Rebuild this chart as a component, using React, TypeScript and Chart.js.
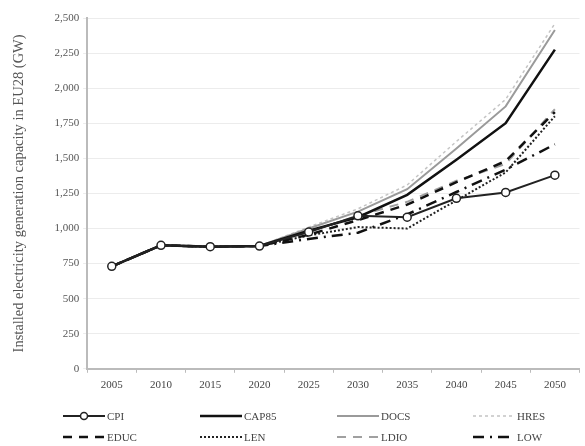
import React, { useEffect, useRef } from "react";
import { Chart, registerables } from "chart.js";

Chart.register(...registerables);

const years = ["2005", "2010", "2015", "2020", "2025", "2030", "2035", "2040", "2045", "2050"];
const cpi = [730, 880, 870, 875, 975, 1090, 1080, 1215, 1257, 1380];
const cap85 = [730, 880, 870, 875, 985, 1080, 1240, 1490, 1750, 2275];
const docs = [730, 880, 870, 875, 1000, 1120, 1280, 1570, 1870, 2415];
const hres = [730, 880, 870, 875, 1010, 1140, 1310, 1620, 1920, 2460];
const educ = [730, 880, 870, 875, 955, 1060, 1170, 1330, 1480, 1830];
const len = [730, 880, 870, 875, 950, 1010, 1000, 1200, 1400, 1800];
const ldio = [730, 880, 870, 875, 975, 1090, 1190, 1340, 1460, 1850];
const low = [730, 880, 870, 875, 925, 970, 1100, 1260, 1420, 1600];
const yTicks = [0, 250, 500, 750, 1000, 1250, 1500, 1750, 2000, 2250, 2500];

const FONT = "'Liberation Serif', 'DejaVu Serif', serif";

const legendPlugin = {
  id: "gridLegend",
  afterDraw(chart: any) {
    const ctx = chart.ctx;
    const cols = [63, 200, 337, 473];
    const rows = [416, 437];
    chart.data.datasets.forEach((ds: any, i: number) => {
      const x = cols[i % 4];
      const y = rows[Math.floor(i / 4)];
      ctx.save();
      ctx.strokeStyle = ds.borderColor;
      ctx.lineWidth = ds.borderWidth;
      ctx.setLineDash(ds.borderDash || []);
      ctx.beginPath();
      ctx.moveTo(x, y);
      ctx.lineTo(x + 42, y);
      ctx.stroke();
      ctx.setLineDash([]);
      if (ds.pointRadius > 0) {
        ctx.beginPath();
        ctx.fillStyle = "#fff";
        ctx.lineWidth = 1.5;
        ctx.arc(x + 21, y, 3.5, 0, Math.PI * 2);
        ctx.fill();
        ctx.stroke();
      }
      ctx.fillStyle = "#444";
      ctx.font = `11px ${FONT}`;
      ctx.textBaseline = "middle";
      ctx.textAlign = "left";
      ctx.fillText(ds.label, x + 44, y + 1);
      ctx.restore();
    });
  },
};

export default function App() {
  const ref = useRef<HTMLCanvasElement | null>(null);
  useEffect(() => {
    if (!ref.current) return;
    const mk = (label: string, data: number[], color: string, width: number, dash: number[], point = false) => ({
      label,
      data,
      borderColor: color,
      backgroundColor: "#fff",
      borderWidth: width,
      borderDash: dash,
      pointRadius: point ? 4 : 0,
      pointBorderWidth: 1.5,
      pointBackgroundColor: "#fff",
      pointBorderColor: color,
      tension: 0,
      fill: false,
    });
    const chart = new Chart(ref.current, {
      type: "line",
      data: {
        labels: years,
        datasets: [
          mk("CPI", cpi, "#222", 2, [], true),
          mk("CAP85", cap85, "#111", 2.5, []),
          mk("DOCS", docs, "#9a9a9a", 2, []),
          mk("HRES", hres, "#c4c4c4", 1.5, [3, 3]),
          mk("EDUC", educ, "#111", 2.5, [9, 7]),
          mk("LEN", len, "#222", 2, [2, 2]),
          mk("LDIO", ldio, "#a0a0a0", 2, [9, 7]),
          mk("LOW", low, "#111", 2.5, [11, 6, 2, 6]),
        ],
      },
      options: {
        animation: false,
        responsive: false,
        layout: { padding: { top: 18, right: 0, bottom: 48, left: 10 } },
        plugins: { legend: { display: false }, tooltip: { enabled: false } },
        scales: {
          x: {
            offset: true,
            grid: { display: true, drawOnChartArea: false, drawTicks: true, tickLength: 4, offset: true, color: "#bbb" },
            border: { display: true, color: "#bbb", width: 2 },
            ticks: { color: "#444", font: { family: FONT, size: 11 }, padding: 6 },
          },
          y: {
            min: 0,
            max: 2500,
            afterBuildTicks: (axis: any) => {
              axis.ticks = yTicks.map((v) => ({ value: v }));
            },
            grid: { color: "#ececec", drawTicks: true, tickLength: 4 },
            border: { display: true, color: "#bbb", width: 2 },
            ticks: {
              color: "#555",
              font: { family: FONT, size: 11 },
              padding: 4,
              callback: (v: any) => Number(v).toLocaleString("en-US"),
            },
            title: {
              display: true,
              text: "Installed electricity generation capacity in EU28 (GW)",
              color: "#555",
              font: { family: FONT, size: 14.5 },
              padding: { top: 0, bottom: 23 },
            },
          },
        },
      },
      plugins: [legendPlugin],
    });
    return () => chart.destroy();
  }, []);
  return (
    <div style={{ position: "fixed", left: 0, top: 0, width: 585, height: 446, background: "#fff" }}>
      <canvas ref={ref} width={585} height={446} style={{ width: 585, height: 446 }} />
    </div>
  );
}
